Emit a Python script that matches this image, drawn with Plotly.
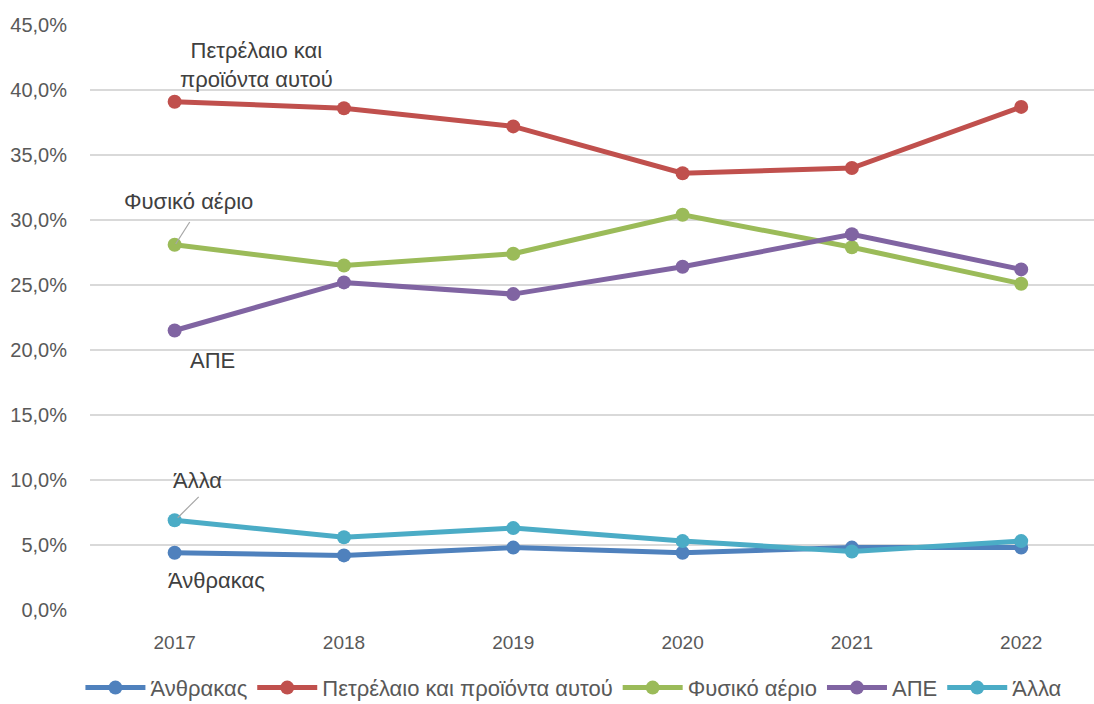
import plotly.graph_objects as go

years = ["2017", "2018", "2019", "2020", "2021", "2022"]
anthrakas = [4.4, 4.2, 4.8, 4.4, 4.8, 4.8]
petrelaio = [39.1, 38.6, 37.2, 33.6, 34.0, 38.7]
fysiko = [28.1, 26.5, 27.4, 30.4, 27.9, 25.1]
ape = [21.5, 25.2, 24.3, 26.4, 28.9, 26.2]
alla = [6.9, 5.6, 6.3, 5.3, 4.5, 5.3]

names = ["Άνθρακας", "Πετρέλαιο και προϊόντα αυτού", "Φυσικό αέριο", "ΑΠΕ", "Άλλα"]
series = [anthrakas, petrelaio, fysiko, ape, alla]
colors = ["#4F81BD", "#C0504D", "#9BBB59", "#8064A2", "#4BACC6"]

FONT = "Liberation Sans"
GRAY = "#595959"

fig = go.Figure()
for n, s, c in zip(names, series, colors):
    fig.add_trace(go.Scatter(
        x=years, y=s, name=n, mode="lines+markers",
        line=dict(color=c, width=5),
        marker=dict(color=c, size=14),
    ))

annots = [
    ("Πετρέλαιο και<br>προϊόντα αυτού", 0.485, 41.9),
    ("Φυσικό αέριο", 0.083, 31.4),
    ("ΑΠΕ", 0.225, 19.2),
    ("Άλλα", 0.136, 10.0),
    ("Άνθρακας", 0.248, 2.3),
]
for t, x, y in annots:
    fig.add_annotation(x=x, y=y, xref="x", yref="y", text=t, showarrow=False,
                       font=dict(family=FONT, size=22, color="#404040"))

for x0, y0, x1, y1 in [(0.089, 29.85, 0.006, 28.15), (0.142, 8.7, 0.018, 7.1)]:
    fig.add_shape(type="line", x0=x0, y0=y0, x1=x1, y1=y1, xref="x", yref="y",
                  line=dict(color="#A6A6A6", width=1.2))

fig.update_layout(
    width=1094, height=704,
    paper_bgcolor="white", plot_bgcolor="white",
    margin=dict(l=90, r=0, t=25, b=94),
    separators=",.",
    font=dict(family=FONT, size=19, color=GRAY),
    showlegend=True,
    legend=dict(orientation="h", x=0.482, xanchor="center",
                yref="container", y=0.023, yanchor="middle",
                font=dict(family=FONT, size=22, color=GRAY),
                itemwidth=60, tracegroupgap=0),
)
fig.update_xaxes(type="category", range=[-0.5, 5.43], showgrid=False, showline=False,
                 zeroline=False, ticks="outside", ticklen=15, tickcolor="rgba(0,0,0,0)",
                 tickfont=dict(family=FONT, size=19, color=GRAY))
fig.update_yaxes(range=[0, 45], dtick=5, tickformat=".1f", ticksuffix="%",
                 showgrid=True, gridcolor="#D9D9D9", gridwidth=1.5, zeroline=False,
                 showline=False, ticks="outside", ticklen=18, tickcolor="rgba(0,0,0,0)",
                 tickfont=dict(family=FONT, size=20, color=GRAY))

fig.write_html("out.html", config={"displayModeBar": False},
               post_script="document.body.style.margin='0';")
